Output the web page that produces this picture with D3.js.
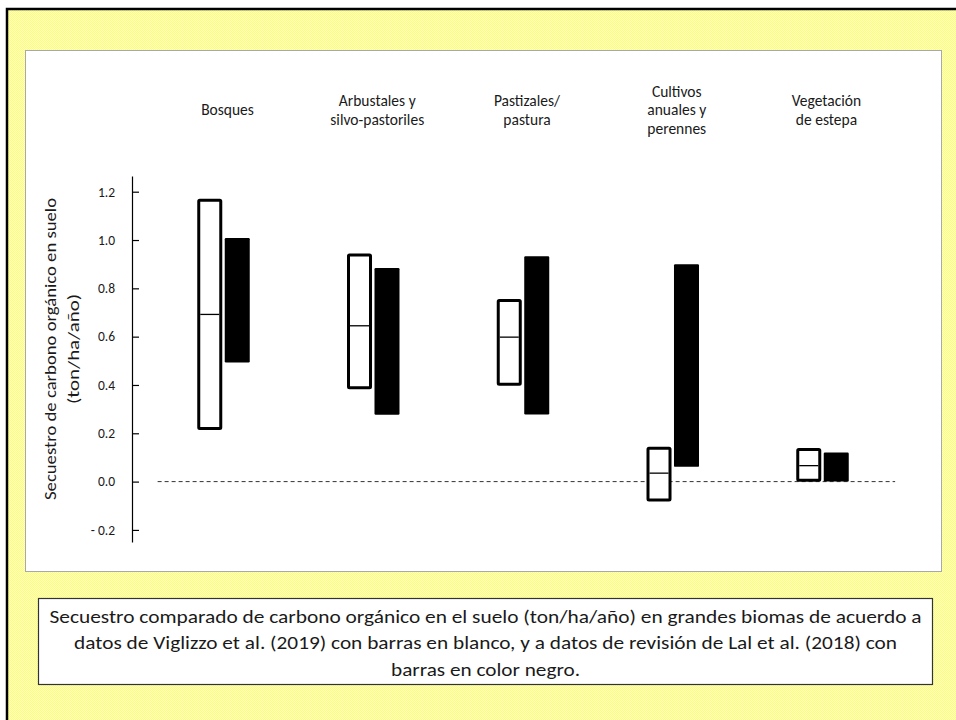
<!DOCTYPE html>
<html>
<head>
<meta charset="utf-8">
<script src="https://cdn.jsdelivr.net/npm/d3@7"></script>
<style>
  html, body { margin: 0; padding: 0; background: #ffffff; }
  svg { display: block; }
  text { font-family: Carlito, Calibri, Lato, "Open Sans", sans-serif; fill: #1a1a1a; }
</style>
</head>
<body>
<svg id="chart" width="956" height="720"></svg>
<script>
// ---------------- data ----------------
const categories = ["Bosques", "Arbustales", "Pastizales", "Cultivos", "Vegetacion"];
const categoryLabels = [
  ["Bosques"],
  ["Arbustales  y", "silvo-pastoriles"],
  ["Pastizales/", "pastura"],
  ["Cultivos", "anuales y", "perennes"],
  ["Vegetación", "de estepa"]
];
// Viglizzo et al. (2019) – white bars
const whiteLow  = [0.22, 0.389, 0.403, -0.076, 0.006];
const whiteHigh = [1.165, 0.938, 0.75, 0.138, 0.133];
const whiteMid  = [0.692, 0.645, 0.598, 0.035, 0.066];
// Lal et al. (2018) – black bars
const blackLow  = [0.493, 0.277, 0.278, 0.061, 0.0];
const blackHigh = [1.008, 0.884, 0.933, 0.90, 0.12];

const tickValues = [-0.2, 0.0, 0.2, 0.4, 0.6, 0.8, 1.0, 1.2];
const tickLabels = ["- 0.2", "0.0", "0.2", "0.4", "0.6", "0.8", "1.0", "1.2"];

const yTitleLines = ["Secuestro de carbono orgánico en suelo", "(ton/ha/año)"];
const captionLines = [
  "Secuestro comparado de carbono orgánico en el suelo (ton/ha/año) en grandes biomas de acuerdo a",
  "datos de Viglizzo et al. (2019) con barras en blanco, y a datos de revisión de Lal et al. (2018) con",
  "barras en color negro."
];
const series = ["white", "black"];

// ---------------- drawing ----------------
const svg = d3.select("#chart");

// yellow dotted pattern
const defs = svg.append("defs");
const pat = defs.append("pattern").attr("id", "dots").attr("patternUnits", "userSpaceOnUse")
  .attr("width", 2).attr("height", 2);
pat.append("rect").attr("width", 2).attr("height", 2).attr("fill", "#ffffd8");
pat.append("rect").attr("width", 1).attr("height", 1).attr("fill", "#ffff66");
pat.append("rect").attr("x", 1).attr("y", 1).attr("width", 1).attr("height", 1).attr("fill", "#ffff66");

// outer frame
svg.append("rect").attr("x", 7).attr("y", 9).attr("width", 970).attr("height", 730)
  .attr("fill", "url(#dots)").attr("stroke", "#000").attr("stroke-width", 2.5);

// white chart panel
svg.append("rect").attr("x", 25.5).attr("y", 50.5).attr("width", 916).attr("height", 521)
  .attr("fill", "#fff").attr("stroke", "#a8a8a8").attr("stroke-width", 1);

// scales
const y = d3.scaleLinear().domain([-0.25, 1.265]).range([542, 176]);
const x = d3.scalePoint().domain(categories).range([223.5, 822.5]);
const sub = d3.scaleBand().domain(series).range([-26.25, 26.25]).paddingInner(0.09);
const bw = sub.bandwidth();

// y axis
const axisX = 132;
const yAxis = d3.axisLeft(y)
  .tickValues(tickValues)
  .tickFormat((d, i) => tickLabels[i])
  .tickSizeInner(-7)
  .tickSizeOuter(0)
  .tickPadding(17);
const gAxis = svg.append("g").attr("transform", `translate(${axisX},0)`).call(yAxis);
gAxis.select(".domain").attr("stroke", "#000").attr("stroke-width", 1.2);
gAxis.selectAll(".tick line").attr("stroke", "#000").attr("stroke-width", 1.2);
gAxis.selectAll(".tick text")
  .attr("font-family", "Carlito, Calibri, Lato, sans-serif")
  .attr("font-size", 13.5).attr("fill", "#222");

// y title
const yTitle = svg.append("g").attr("transform", "translate(0,349) rotate(-90)");
yTitleLines.forEach((t, i) => {
  const txt = yTitle.append("text")
    .attr("x", 0).attr("y", 56 + i * 23)
    .attr("text-anchor", "middle")
    .attr("font-size", 16.5)
    .text(t);
  if (i === 0) txt.attr("textLength", 302).attr("lengthAdjust", "spacingAndGlyphs");
  else txt.attr("textLength", 110).attr("lengthAdjust", "spacingAndGlyphs");
});

// zero dashed line
const step = x.step();
svg.append("line")
  .attr("x1", x(categories[0]) - 0.44 * step)
  .attr("x2", x(categories[categories.length - 1]) + 0.485 * step)
  .attr("y1", y(0)).attr("y2", y(0))
  .attr("stroke", "#333").attr("stroke-width", 1)
  .attr("stroke-dasharray", "4,3");

// black bars
svg.append("g").selectAll("rect").data(categories).join("rect")
  .attr("x", d => x(d) + sub("black"))
  .attr("width", bw)
  .attr("y", (d, i) => y(blackHigh[i]))
  .attr("height", (d, i) => y(blackLow[i]) - y(blackHigh[i]))
  .attr("rx", 1.2)
  .attr("fill", "#000");

// white bars
const sw = 3;
svg.append("g").selectAll("rect").data(categories).join("rect")
  .attr("x", d => x(d) + sub("white") + sw / 2)
  .attr("width", bw - sw)
  .attr("y", (d, i) => y(whiteHigh[i]))
  .attr("height", (d, i) => y(whiteLow[i]) - y(whiteHigh[i]))
  .attr("fill", "#fff").attr("stroke", "#000").attr("stroke-width", sw)
  .attr("rx", 1);

// median lines
svg.append("g").selectAll("line").data(categories).join("line")
  .attr("x1", d => x(d) + sub("white") + sw)
  .attr("x2", d => x(d) + sub("white") + bw - sw)
  .attr("y1", (d, i) => y(whiteMid[i])).attr("y2", (d, i) => y(whiteMid[i]))
  .attr("stroke", "#000").attr("stroke-width", 1.3);

// category labels
const lh = 18.5;
categories.forEach((c, i) => {
  const lines = categoryLabels[i];
  const y0 = 110 - (lines.length - 1) * lh / 2;
  const g = svg.append("text").attr("text-anchor", "middle").attr("font-size", 15.5);
  lines.forEach((l, j) => {
    g.append("tspan").attr("x", x(c) + 4).attr("y", y0 + j * lh).attr("dy", "0.35em").text(l);
  });
});

// caption box
svg.append("rect").attr("x", 38.5).attr("y", 598.5).attr("width", 894).attr("height", 86)
  .attr("fill", "#fff").attr("stroke", "#333").attr("stroke-width", 1.2);
const capWidths = [872, 823, 189];
captionLines.forEach((t, i) => {
  svg.append("text")
    .attr("x", 485.5).attr("y", 622.7 + i * 26.7)
    .attr("text-anchor", "middle")
    .attr("font-size", 18)
    .attr("textLength", capWidths[i]).attr("lengthAdjust", "spacingAndGlyphs")
    .text(t);
});
</script>
</body>
</html>
